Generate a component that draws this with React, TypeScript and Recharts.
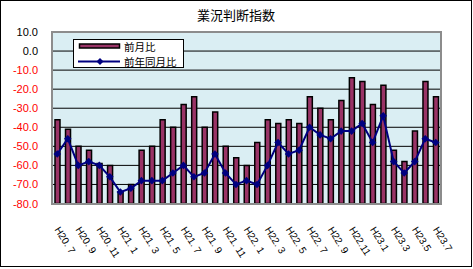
import { ComposedChart, Bar, Line, XAxis, YAxis, CartesianGrid } from 'recharts'

const categories = [
  'H20. 7', 'H20. 8', 'H20. 9', 'H20. 10', 'H20. 11', 'H20. 12',
  'H21. 1', 'H21. 2', 'H21. 3', 'H21. 4', 'H21. 5', 'H21. 6',
  'H21. 7', 'H21. 8', 'H21. 9', 'H21. 10', 'H21. 11', 'H21. 12',
  'H22. 1', 'H22. 2', 'H22. 3', 'H22. 4', 'H22. 5', 'H22. 6',
  'H22. 7', 'H22. 8', 'H22. 9', 'H22.10', 'H22.11', 'H22.12',
  'H23.1', 'H23.2', 'H23.3', 'H23.4', 'H23.5', 'H23.6', 'H23.7',
]

// 前月比
const monthOnMonth = [
  -36, -41, -50, -52, -59, -60,
  -74, -70, -52, -50, -36, -40,
  -28, -24, -40, -32, -50, -56,
  -60, -48, -36, -38, -36, -38,
  -24, -30, -36, -26, -14, -16,
  -28, -18, -52, -58, -42, -16, -24,
]

// 前年同月比
const yearOnYear = [
  -54, -46, -60, -58, -60, -66,
  -74, -72, -68, -68, -68, -64,
  -60, -66, -64, -54, -64, -70,
  -68, -70, -60, -48, -54, -52,
  -40, -44, -46, -42, -42, -38,
  -48, -34, -58, -64, -58, -46, -48,
]

const yTicks = [10, 0, -10, -20, -30, -40, -50, -60, -70, -80]
const axisMin = -80

const data = categories.map((month, i) => ({
  month,
  mom: [axisMin, monthOnMonth[i]],
  yoy: yearOnYear[i],
}))

const font = '"Liberation Sans", Arial, sans-serif'
const jpFont = '"Noto Sans CJK JP", sans-serif'

function YTick({ x, y, payload }: any) {
  const v = payload.value as number
  return (
    <text x={x} y={y} dy={4} textAnchor="end" fontSize={11} fontFamily={font} fill={v < 0 ? '#ff0000' : '#000'}>
      {v.toFixed(1)}
    </text>
  )
}

function XTick({ x, y, payload, index }: any) {
  if (index % 2 !== 0) return null
  const tx = x - 3
  const ty = y + 18
  return (
    <text x={tx} y={ty} transform={`rotate(58, ${tx}, ${ty})`} textAnchor="start" fontSize={10} fontFamily={font} fill="#000">
      {payload.value}
    </text>
  )
}

function Diamond({ cx, cy, index }: any) {
  if (cx == null || cy == null) return <g key={index} />
  const s = 3.8
  return <path key={index} d={`M${cx},${cy - s}L${cx + s},${cy}L${cx},${cy + s}L${cx - s},${cy}Z`} fill="#000080" />
}

function LegendBox() {
  const row = { position: 'absolute' as const, left: 50, fontSize: 10.5, lineHeight: '12px', fontFamily: jpFont, color: '#000', whiteSpace: 'nowrap' as const }
  return (
    <div style={{ position: 'absolute', left: 73, top: 39, width: 111, height: 29, background: '#fff', border: '1px solid #000', boxSizing: 'border-box' }}>
      <svg width={48} height={27} style={{ position: 'absolute', left: 0, top: 0 }}>
        <rect x={5.5} y={4} width={40} height={4} fill="#993366" stroke="#000" strokeWidth={1.5} />
        <line x1={4} y1={21.5} x2={46} y2={21.5} stroke="#000080" strokeWidth={2} />
        <path d="M26,18L29.5,21.5L26,25L22.5,21.5Z" fill="#000080" />
      </svg>
      <div style={{ ...row, top: 1 }}>前月比</div>
      <div style={{ ...row, top: 15.5 }}>前年同月比</div>
    </div>
  )
}

export default function App() {
  return (
    <div style={{ position: 'absolute', left: 0, top: 0, width: 472, height: 267, background: '#fff' }}>
      <ComposedChart
        width={472}
        height={267}
        data={data}
        margin={{ top: 32, right: 31, bottom: 0, left: 0 }}
      >
        <CartesianGrid vertical={false} stroke="#000" fill="#daeef3" fillOpacity={1} />
        <XAxis
          dataKey="month"
          interval={0}
          height={63.5}
          tick={<XTick />}
          tickLine={false}
          axisLine={false}
        />
        <YAxis
          type="number"
          domain={[-80, 10]}
          ticks={yTicks}
          interval={0}
          width={52}
          tick={<YTick />}
          tickLine={false}
          axisLine={false}
          tickMargin={8}
        />
        <Bar dataKey="mom" name="前月比" barSize={5} fill="#993366" stroke="#000" strokeWidth={1.5} isAnimationActive={false} />
        <Line
          dataKey="yoy"
          name="前年同月比"
          stroke="#000080"
          strokeWidth={2}
          dot={<Diamond />}
          activeDot={false}
          isAnimationActive={false}
        />
      </ComposedChart>
      <div style={{ position: 'absolute', left: 51, top: 31, width: 391, height: 174, border: '2px solid #8c8c8c', boxSizing: 'border-box', pointerEvents: 'none' }} />
      <LegendBox />
      <div style={{ position: 'absolute', left: 0, top: 6, width: 472, textAlign: 'center', fontSize: 13, lineHeight: '18px', fontFamily: jpFont, color: '#000' }}>
        業況判断指数
      </div>
      <div style={{ position: 'absolute', left: 0, top: 0, width: 472, height: 267, border: '1px solid #000', boxSizing: 'border-box', pointerEvents: 'none' }} />
    </div>
  )
}
